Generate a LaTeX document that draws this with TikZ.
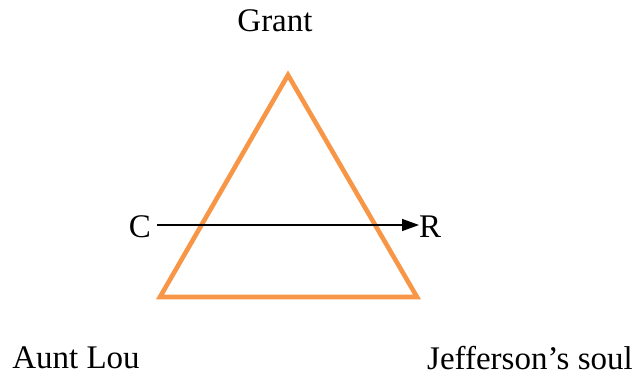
\documentclass[tikz,border=0pt]{standalone}
\usepackage{fontspec}
\setmainfont{Liberation Serif}
\usetikzlibrary{arrows.meta}
\definecolor{arancio}{HTML}{F79646}
\begin{document}
\begin{tikzpicture}[x=1pt,y=-1pt,
    lbl/.style={inner sep=0pt, font=\fontsize{33}{38}\selectfont}]
        \useasboundingbox (0,0) rectangle (638,376);
        % Triangolo
        \draw[line width=4.6pt, arancio, line join=miter] (288,75) -- (417,297) -- (160,297) -- cycle;
        % Etichette
        \node[lbl] (grant) at (275,21) {Grant};
        \node[lbl] (aunt) at (76,358) {Aunt Lou};
        \node[lbl] (jeff) at (530,358) {Jefferson’s soul};
        \node[lbl, anchor=east] (c) at (151,227) {C};
        \node[lbl, anchor=west] (r) at (419,227) {R};
        % Freccia
        \draw[line width=1.3pt, -{Triangle[length=17pt,width=12pt]}] ([xshift=6pt]c.east |- 0,225) -- (r.west |- 0,225);
    \end{tikzpicture}
\end{document}
